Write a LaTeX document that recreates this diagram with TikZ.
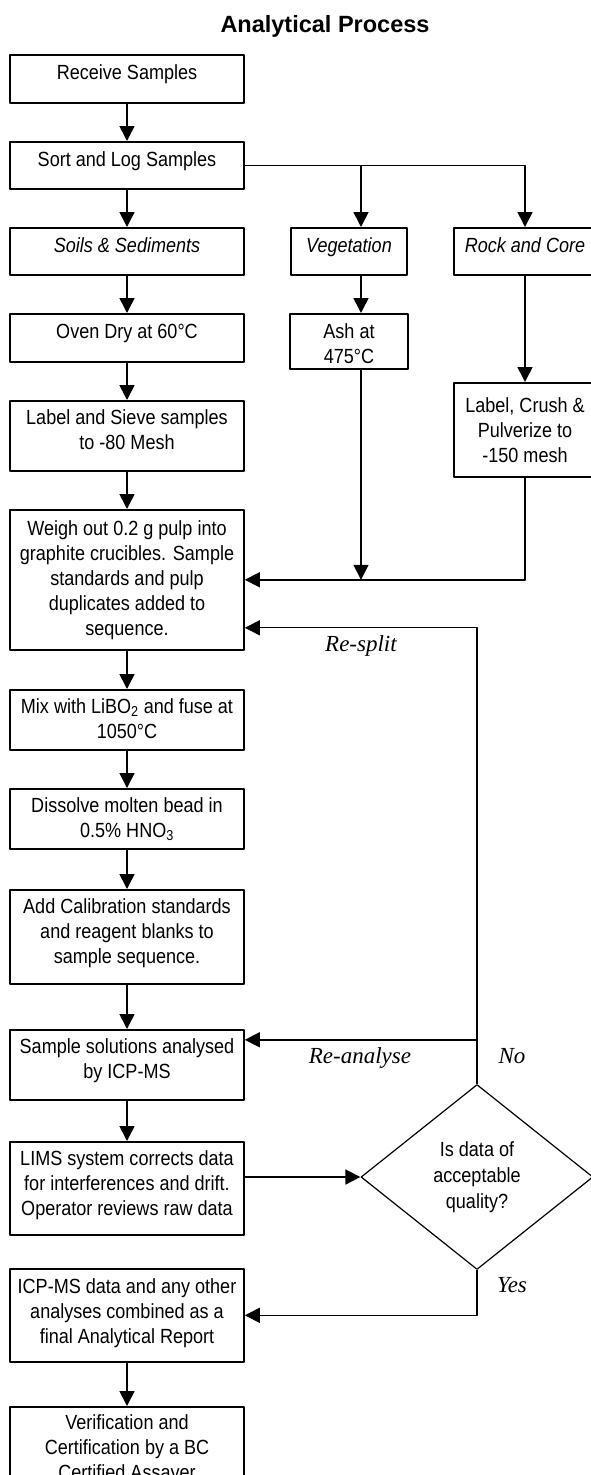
\documentclass[tikz,border=0pt]{standalone}
\usepackage{fontspec}
\setmainfont{Liberation Sans}[FakeStretch=0.88]
\newfontfamily\titlefont{Liberation Sans}
\newfontfamily\notefont{Liberation Serif}
\usetikzlibrary{arrows.meta, shapes.geometric}

\begin{document}
\begin{tikzpicture}[x=1pt, y=-1pt, line join=round,
  box/.style={draw, line width=1.6pt, anchor=north, inner sep=0pt, align=center,
    minimum width=234pt, text height=25pt, font=\fontsize{20.5}{25}\selectfont},
  arr/.style={line width=1.6pt, -{Triangle[length=15pt, width=15pt]}},
  loop/.style={line width=1.2pt, -{Triangle[length=15pt, width=15pt]}},
  note/.style={anchor=base, font=\notefont\itshape\fontsize{23}{27}\selectfont}]
\useasboundingbox (0,0) rectangle (591,1475);
\node[anchor=base, font=\titlefont\bfseries\fontsize{23.5}{28}\selectfont] (title) at (325,32) {Analytical Process};
\node[box, text depth=23pt] (rcv) at (127,54) {Receive Samples};
\node[box, text depth=22pt] (sort) at (127,141) {Sort and Log Samples};
\node[box, text depth=22pt] (soils) at (127,227) {\itshape Soils \& Sediments};
\node[box, text depth=22pt, minimum width=116pt] (veg) at (349,227) {\itshape Vegetation};
\node[box, text depth=22pt, minimum width=142pt] (rock) at (525,227) {\itshape Rock and Core};
\node[box, text depth=23pt] (oven) at (127,313) {Oven Dry at 60°C};
\node[box, text height=50pt, text depth=5pt, minimum width=118pt] (ash) at (349,313) {Ash at\\475°C};
\node[box, text height=80pt, text depth=14pt, minimum width=142pt] (crush) at (525,382) {Label, Crush \&\\Pulverize to\\-150 mesh};
\node[box, text height=49pt, text depth=21pt] (sieve) at (127,400) {Label and Sieve samples\\to -80 Mesh};
\node[box, text height=126pt, text depth=14pt] (weigh) at (127,509) {Weigh out 0.2 g pulp into\\graphite crucibles. Sample\\standards and pulp\\duplicates added to\\sequence.};
\node[box, text height=49pt, text depth=11pt] (mix) at (127,689) {Mix with LiBO\textsubscript{2} and fuse at\\1050°C};
\node[box, text height=49pt, text depth=11pt] (diss) at (127,788) {Dissolve molten bead in\\0.5\% HNO\textsubscript{3}};
\node[box, text height=74pt, text depth=20pt] (cal) at (127,889) {Add Calibration standards\\and reagent blanks to\\sample sequence.};
\node[box, text height=49pt, text depth=21pt] (ana) at (127,1029) {Sample solutions analysed\\by ICP-MS};
\node[box, text height=74pt, text depth=19pt] (lims) at (127,1141) {LIMS system corrects data\\for interferences and drift.\\Operator reviews raw data};
\node[box, text height=75pt, text depth=18pt] (rep) at (127,1268) {ICP-MS data and any other\\analyses combined as a\\final Analytical Report};
\node[box, text height=73pt, text depth=20pt] (ver) at (127,1406) {Verification and\\Certification by a BC\\Certified Assayer};
\node[draw, diamond, line width=1.2pt, minimum width=232pt, minimum height=185pt, inner sep=0pt,
  align=center, font=\fontsize{20.5}{26}\selectfont] (qa) at (477,1177) {Is data of\\acceptable\\quality?};
\coordinate (vegin) at ([xshift=12pt]veg.north);
\coordinate (vegout) at ([xshift=12pt]veg.south);
\coordinate (ashin) at ([xshift=12pt]ash.north);
\coordinate (ashout) at ([xshift=12pt]ash.south);
\coordinate (weighin) at ([yshift=-48pt]weigh.east);
\coordinate (anain) at ([yshift=25pt]ana.east);
\draw[arr] (rcv) -- (sort);
\draw[arr] (sort) -- (soils);
\draw[arr] (sort.east) -| (rock.north);
\draw[arr] (sort.east -| vegin) -- (vegin);
\draw[arr] (soils) -- (oven);
\draw[arr] (vegout) -- (ashin);
\draw[arr] (rock) -- (crush);
\draw[arr] (oven) -- (sieve);
\draw[arr] (sieve) -- (weigh);
\draw[arr] (ashout) -- (ashout |- weigh.east);
\draw[arr] (crush.south) |- (weigh.east);
\draw[loop] (qa.north) |- (weighin);
\draw[arr] (weigh) -- (mix);
\draw[arr] (mix) -- (diss);
\draw[arr] (diss) -- (cal);
\draw[arr] (cal) -- (ana);
\draw[arr] (anain -| qa.north) -- (anain);
\draw[arr] (ana) -- (lims);
\draw[arr] (lims.east |- qa.west) -- (qa.west);
\draw[loop] (qa.south) |- (rep.east);
\draw[arr] (rep) -- (ver);
\node[note] (resplit) at (361,651) {Re-split};
\node[note] (reana) at (360,1063) {Re-analyse};
\node[note] (no) at (512,1063) {No};
\node[note] (yes) at (512,1292) {Yes};
\end{tikzpicture}
\end{document}
